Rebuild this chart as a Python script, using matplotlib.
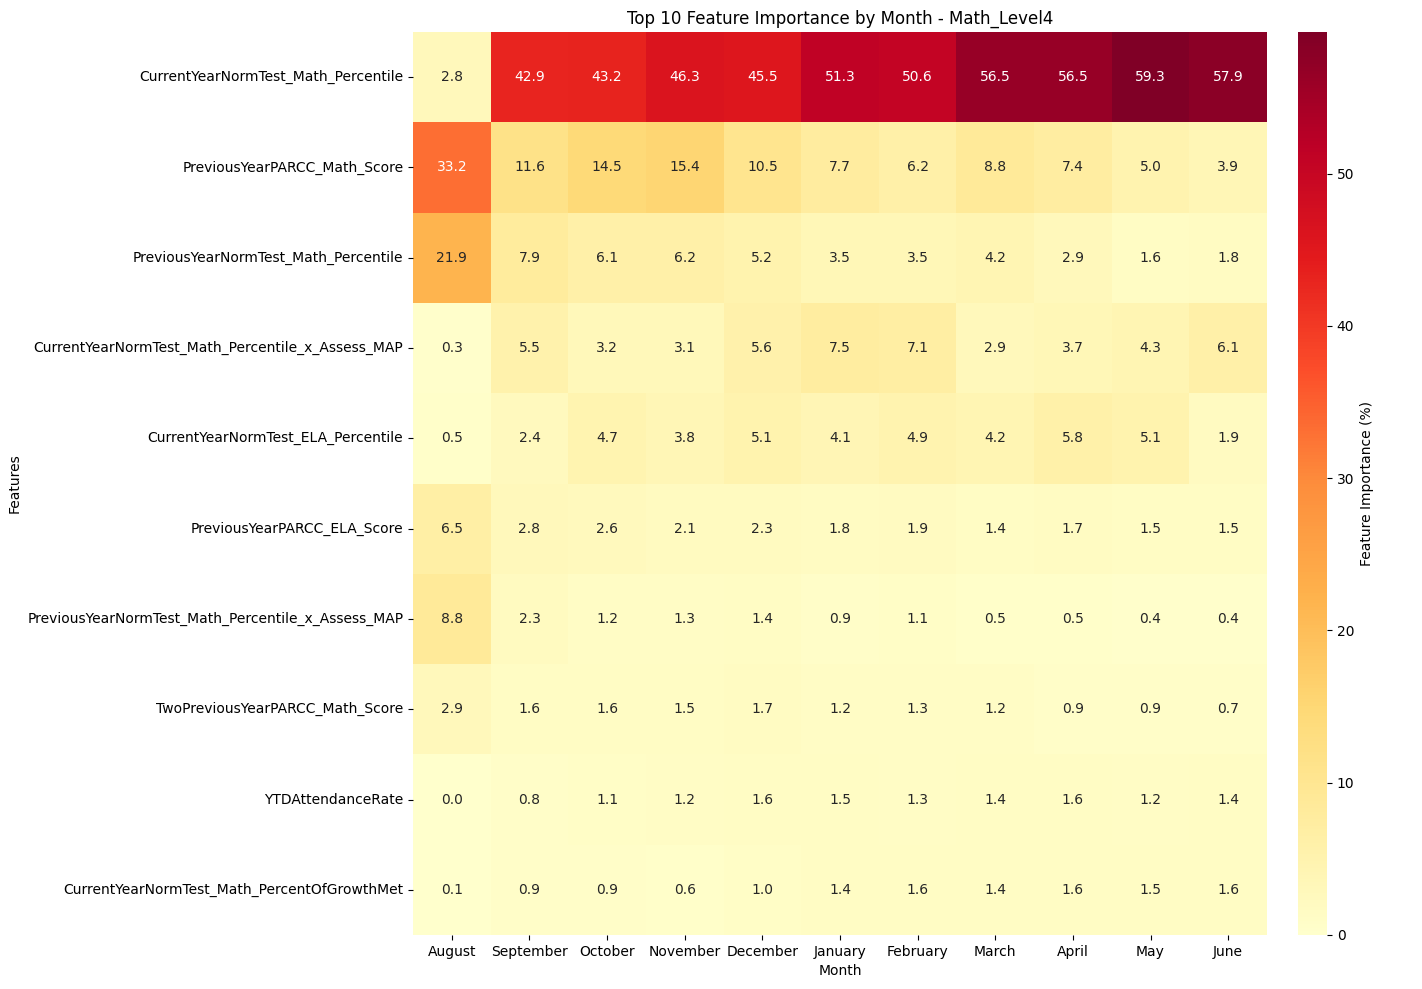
import matplotlib
matplotlib.use("Agg")
import matplotlib.pyplot as plt
import seaborn as sns
import numpy as np
import pandas as pd

months = ["August", "September", "October", "November", "December", "January",
          "February", "March", "April", "May", "June"]
features = [
    "CurrentYearNormTest_Math_Percentile",
    "PreviousYearPARCC_Math_Score",
    "PreviousYearNormTest_Math_Percentile",
    "CurrentYearNormTest_Math_Percentile_x_Assess_MAP",
    "CurrentYearNormTest_ELA_Percentile",
    "PreviousYearPARCC_ELA_Score",
    "PreviousYearNormTest_Math_Percentile_x_Assess_MAP",
    "TwoPreviousYearPARCC_Math_Score",
    "YTDAttendanceRate",
    "CurrentYearNormTest_Math_PercentOfGrowthMet",
]
row0 = [2.8, 42.9, 43.2, 46.3, 45.5, 51.3, 50.6, 56.5, 56.5, 59.3, 57.9]
row1 = [33.2, 11.6, 14.5, 15.4, 10.5, 7.7, 6.2, 8.8, 7.4, 5.0, 3.9]
row2 = [21.9, 7.9, 6.1, 6.2, 5.2, 3.5, 3.5, 4.2, 2.9, 1.6, 1.8]
row3 = [0.3, 5.5, 3.2, 3.1, 5.6, 7.5, 7.1, 2.9, 3.7, 4.3, 6.1]
row4 = [0.5, 2.4, 4.7, 3.8, 5.1, 4.1, 4.9, 4.2, 5.8, 5.1, 1.9]
row5 = [6.5, 2.8, 2.6, 2.1, 2.3, 1.8, 1.9, 1.4, 1.7, 1.5, 1.5]
row6 = [8.8, 2.3, 1.2, 1.3, 1.4, 0.9, 1.1, 0.5, 0.5, 0.4, 0.4]
row7 = [2.9, 1.6, 1.6, 1.5, 1.7, 1.2, 1.3, 1.2, 0.9, 0.9, 0.7]
row8 = [0.0, 0.8, 1.1, 1.2, 1.6, 1.5, 1.3, 1.4, 1.6, 1.2, 1.4]
row9 = [0.1, 0.9, 0.9, 0.6, 1.0, 1.4, 1.6, 1.4, 1.6, 1.5, 1.6]

df = pd.DataFrame([row0, row1, row2, row3, row4, row5, row6, row7, row8, row9],
                  index=features, columns=months)

fig = plt.figure(figsize=(14.22, 9.89), dpi=100)
ax = fig.add_axes([413/1422, 1 - 935/989, (1267-413)/1422, (935-32)/989])
cax = fig.add_axes([1298/1422, 1 - 935/989, (1327-1298)/1422, (935-32)/989])
sns.heatmap(df, annot=True, fmt=".1f", cmap="YlOrRd", vmin=0, ax=ax, cbar_ax=cax,
            cbar_kws={"label": "Feature Importance (%)"})
ax.set_title("Top 10 Feature Importance by Month - Math_Level4")
ax.set_xlabel("Month")
ax.set_ylabel("Features")
ax.tick_params(axis="x", rotation=0)
ax.tick_params(axis="y", rotation=0)
fig.savefig("out.png", dpi=100)
